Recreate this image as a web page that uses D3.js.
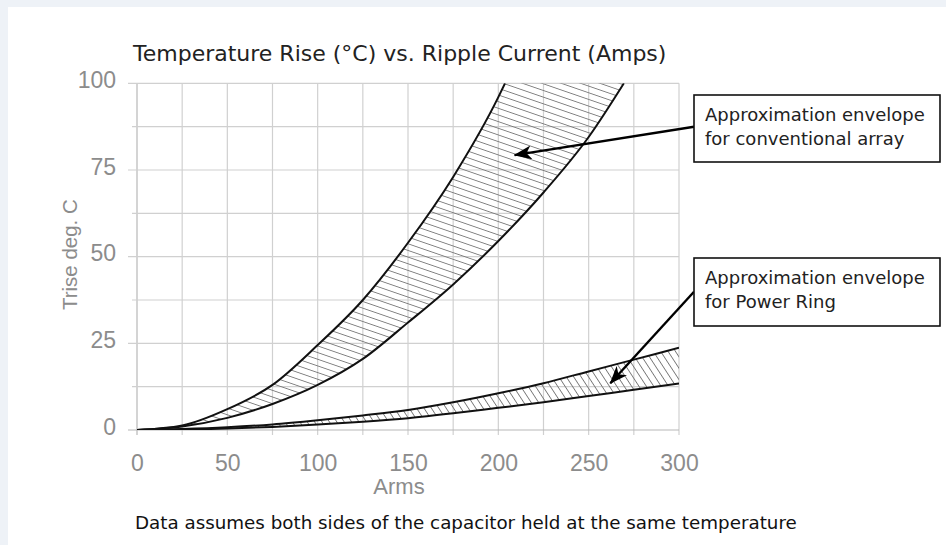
<!DOCTYPE html>
<html>
<head>
<meta charset="utf-8">
<script src="https://cdn.jsdelivr.net/npm/d3@7"></script>
<style>
  html, body { margin: 0; padding: 0; background: #eef2f7; }
  svg { display: block; }
</style>
</head>
<body>
<svg id="chart" width="946" height="545"></svg>
<script>
// ---------- data ----------
const chartTitle = "Temperature Rise (°C) vs. Ripple Current (Amps)";
const xAxisTitle = "Arms";
const yAxisTitle = "Trise deg. C";
const footnote = "Data assumes both sides of the capacitor held at the same temperature";

const xTickLabels = [0, 50, 100, 150, 200, 250, 300];
const yTickLabels = [0, 25, 50, 75, 100];
const xGrid = [0, 25, 50, 75, 100, 125, 150, 175, 200, 225, 250, 275, 300];
const yGrid = [0, 12.5, 25, 37.5, 50, 62.5, 75, 87.5, 100];

// Conventional array envelope
const convUpperX = [0, 25, 50, 75, 100, 125, 150, 175, 200, 203.7];
const convUpperY = [0, 1.3, 6, 13, 24.5, 37.5, 54, 73, 96, 100];
const convLowerX = [0, 25, 50, 75, 100, 125, 150, 175, 200, 225, 250, 269.5];
const convLowerY = [0, 1, 3.5, 7.5, 13, 20.5, 31, 42, 54.5, 68.5, 84.5, 100];

// Power Ring envelope
const ringX = [0, 25, 50, 75, 100, 125, 150, 175, 200, 225, 250, 275, 300];
const ringUpperY = [0, 0.3, 0.8, 1.6, 2.8, 4.2, 5.8, 8, 10.6, 13.5, 16.9, 20.3, 23.7];
const ringLowerY = [0, 0.1, 0.4, 0.9, 1.6, 2.4, 3.4, 4.8, 6.4, 8, 9.8, 11.6, 13.4];

// Annotation callouts (arrow targets in data units)
const noteLines = [
  ["Approximation envelope", "for conventional array"],
  ["Approximation envelope", "for Power Ring"]
];
const noteTargetX = [209, 262];
const noteTargetY = [79.3, 13.5];

// ---------- layout ----------
const W = 946, H = 545;
const plot = { left: 137, right: 679, top: 83.3, bottom: 430 };
const boxes = [
  { x: 694, y: 95, w: 246, h: 67, anchorY: 126.7 },
  { x: 694, y: 258, w: 246, h: 68, anchorY: 291.7 }
];

const svg = d3.select("#chart");
const x = d3.scaleLinear().domain([0, 300]).range([plot.left, plot.right]);
const y = d3.scaleLinear().domain([0, 100]).range([plot.bottom, plot.top]);

// white panel
svg.append("rect").attr("x", 8).attr("y", 7).attr("width", W - 8).attr("height", H - 7).attr("fill", "#ffffff");

// patterns
const defs = svg.append("defs");
function hatch(id, angle, spacing, color, width) {
  const p = defs.append("pattern")
    .attr("id", id).attr("patternUnits", "userSpaceOnUse")
    .attr("width", 20).attr("height", spacing)
    .attr("patternTransform", `rotate(${angle})`);
  p.append("line").attr("x1", 0).attr("x2", 20).attr("y1", spacing / 2).attr("y2", spacing / 2)
    .attr("stroke", color).attr("stroke-width", width);
}
hatch("hatchConv", 19, 6.3, "#777", 0.9);
hatch("hatchRing", 57, 6.2, "#777", 0.9);

defs.append("marker")
  .attr("id", "arrowHead").attr("viewBox", "0 0 18 14")
  .attr("refX", 17).attr("refY", 7)
  .attr("markerWidth", 18).attr("markerHeight", 14)
  .attr("markerUnits", "userSpaceOnUse")
  .attr("orient", "auto")
  .append("path").attr("d", "M0,0 L18,7 L0,14 L5,7 Z").attr("fill", "#000");

defs.append("clipPath").attr("id", "plotClip")
  .append("rect").attr("x", plot.left).attr("y", plot.top)
  .attr("width", plot.right - plot.left).attr("height", plot.bottom - plot.top);

// grid
const grid = svg.append("g");
grid.selectAll(".vg").data(xGrid).join("line")
  .attr("x1", d => x(d)).attr("x2", d => x(d))
  .attr("y1", y(100)).attr("y2", y(0) + 5)
  .attr("stroke", d => d === 0 ? "#b8b8b8" : "#d0d0d0").attr("stroke-width", 1.2);
grid.selectAll(".hg").data(yGrid).join("line")
  .attr("x1", d => x(0) - (d % 25 === 0 ? 9 : 5)).attr("x2", x(300))
  .attr("y1", d => y(d)).attr("y2", d => y(d))
  .attr("stroke", d => d === 0 ? "#b8b8b8" : "#d0d0d0").attr("stroke-width", 1.2);

// axes labels via d3 axes
const xAxis = svg.append("g").attr("transform", `translate(0,${plot.bottom})`)
  .call(d3.axisBottom(x).tickValues(xTickLabels).tickSize(0).tickFormat(d3.format("d")));
xAxis.select(".domain").remove();
xAxis.selectAll("text").attr("y", 41).attr("dy", 0)
  .attr("font-family", "'Liberation Sans', Arial, sans-serif").attr("font-size", 23).attr("fill", "#8c8c8c");

const yAxis = svg.append("g").attr("transform", `translate(${plot.left},0)`)
  .call(d3.axisLeft(y).tickValues(yTickLabels).tickSize(0).tickFormat(d3.format("d")));
yAxis.select(".domain").remove();
yAxis.selectAll("text").attr("x", -21).attr("dy", "0.18em")
  .attr("font-family", "'Liberation Sans', Arial, sans-serif").attr("font-size", 23).attr("fill", "#8c8c8c");

// axis titles
svg.append("text").text(xAxisTitle)
  .attr("x", 399).attr("y", 494).attr("text-anchor", "middle")
  .attr("font-family", "'Liberation Sans', Arial, sans-serif").attr("font-size", 22).attr("fill", "#8c8c8c");
svg.append("text").text(yAxisTitle)
  .attr("transform", `translate(77,${(plot.top + plot.bottom) / 2 - 2}) rotate(-90)`)
  .attr("text-anchor", "middle")
  .attr("font-family", "'Liberation Sans', Arial, sans-serif").attr("font-size", 20.5).attr("fill", "#8c8c8c");

// title & footnote
svg.append("text").text(chartTitle)
  .attr("x", 133).attr("y", 61)
  .attr("font-family", "'DejaVu Sans', Verdana, sans-serif").attr("font-size", 22).attr("fill", "#222");
svg.append("text").text(footnote)
  .attr("x", 135).attr("y", 529)
  .attr("font-family", "'DejaVu Sans', Verdana, sans-serif").attr("font-size", 18.3).attr("fill", "#111");

// envelopes
const line = d3.line().x(d => x(d[0])).y(d => y(d[1])).curve(d3.curveMonotoneX);
const convUpper = convUpperX.map((v, i) => [v, convUpperY[i]]);
const convLower = convLowerX.map((v, i) => [v, convLowerY[i]]);
const ringUpper = ringX.map((v, i) => [v, ringUpperY[i]]);
const ringLower = ringX.map((v, i) => [v, ringLowerY[i]]);

function band(up, lo) {
  const a = line(up);
  const b = line(lo.slice().reverse());
  return a + "L" + b.slice(1) + "Z";
}

const marks = svg.append("g").attr("clip-path", "url(#plotClip)");
marks.append("path").attr("d", band(convUpper, convLower)).attr("fill", "url(#hatchConv)");
marks.append("path").attr("d", band(ringUpper, ringLower)).attr("fill", "url(#hatchRing)");
[convUpper, convLower, ringUpper, ringLower].forEach(s => {
  marks.append("path").attr("d", line(s)).attr("fill", "none")
    .attr("stroke", "#111").attr("stroke-width", 2).attr("stroke-linejoin", "round");
});

// callouts
boxes.forEach((b, i) => {
  svg.append("line")
    .attr("x1", b.x).attr("y1", b.anchorY)
    .attr("x2", x(noteTargetX[i])).attr("y2", y(noteTargetY[i]))
    .attr("stroke", "#000").attr("stroke-width", 2.4)
    .attr("marker-end", "url(#arrowHead)");
  svg.append("rect").attr("x", b.x).attr("y", b.y).attr("width", b.w).attr("height", b.h)
    .attr("fill", "#fff").attr("stroke", "#111").attr("stroke-width", 1.6);
  const t = svg.append("text")
    .attr("font-family", "'DejaVu Sans', Verdana, sans-serif").attr("font-size", 18).attr("fill", "#222");
  noteLines[i].forEach((s, j) => {
    t.append("tspan").attr("x", b.x + 11).attr("y", b.y + 25.7 + j * 24).text(s);
  });
});
</script>
</body>
</html>
